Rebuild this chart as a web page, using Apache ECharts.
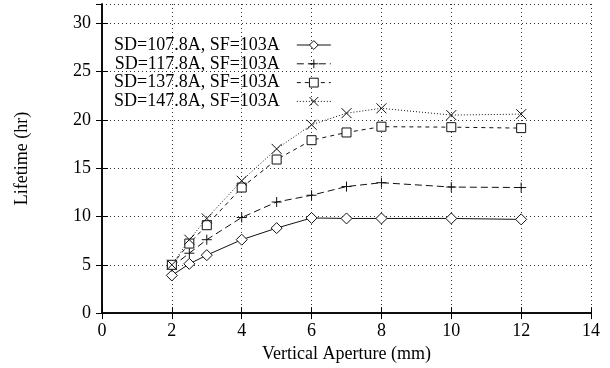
<!DOCTYPE html>
<html>
<head>
<meta charset="utf-8">
<script src="https://cdn.jsdelivr.net/npm/echarts@6/dist/echarts.min.js"></script>
<style>
  html, body { margin: 0; padding: 0; background: #fff; }
  #chart { width: 610px; height: 368px; }
</style>
</head>
<body>
<div id="chart"></div>
<script>
// aperture values (mm)
const aperture = [2, 2.5, 3, 4, 5, 6, 7, 8, 10, 12];
// lifetime (hr) for each SD setting
const sd1078 = [3.9, 5.1, 6.0, 7.6, 8.8, 9.85, 9.8, 9.8, 9.8, 9.7];
const sd1178 = [4.8, 6.2, 7.6, 9.9, 11.5, 12.2, 13.1, 13.5, 13.05, 13.0];
const sd1378 = [5.0, 7.2, 9.1, 13.0, 15.9, 17.9, 18.7, 19.3, 19.25, 19.15];
const sd1478 = [5.0, 7.6, 9.8, 13.7, 17.0, 19.5, 20.7, 21.2, 20.5, 20.6];
const names = ['SD=107.8A, SF=103A', 'SD=117.8A, SF=103A', 'SD=137.8A, SF=103A', 'SD=147.8A, SF=103A'];

const font = 'Liberation Serif';
// outline marks drawn as paths so the stroke stays 1px
const diamondPath = 'path://M5,0L10,5L5,10L0,5Z';
const squarePath = 'path://M0,0L10,0L10,10L0,10Z';
const plusPath = 'path://M5,0L5,10M0,5L10,5';
const crossPath = 'path://M0,0L10,10M10,0L0,10';

function pts(ys) {
  return aperture.map((x, i) => [x, ys[i]]);
}

function mk(name, ys, symbol, size, lineType) {
  return {
    name: name,
    type: 'line',
    data: pts(ys),
    symbol: symbol,
    symbolSize: size,
    showAllSymbol: true,
    lineStyle: { color: '#111', width: 1, type: lineType },
    itemStyle: { color: '#fff', borderColor: '#111', borderWidth: 1 },
    emphasis: { disabled: true },
    z: 3
  };
}

const chart = echarts.init(document.getElementById('chart'));
const tickInside = { show: true, inside: true, length: 6, lineStyle: { color: '#000' } };
const grid = { type: [1, 3], color: '#333', width: 1 };

chart.setOption({
  animation: false,
  backgroundColor: '#fff',
  textStyle: { fontFamily: font },
  grid: { left: 102, right: 19, top: 4, bottom: 51 },
  legend: {
    orient: 'vertical',
    left: 109,
    top: 31,
    align: 'right',
    itemWidth: 34,
    itemHeight: 11,
    itemGap: 0.8,
    itemStyle: { borderWidth: 1 },
    lineStyle: { width: 1 },
    textStyle: { fontFamily: font, fontSize: 18, color: '#000', padding: [0, 12, 0, 0] },
    data: names
  },
  xAxis: [{
    type: 'value', min: 0, max: 14, interval: 2,
    name: 'Vertical Aperture (mm)', nameLocation: 'middle', nameGap: 18,
    nameTextStyle: { fontFamily: font, fontSize: 18, color: '#000' },
    axisLine: { lineStyle: { color: '#000', width: 1.5 } },
    axisTick: tickInside,
    axisLabel: { fontFamily: font, fontSize: 18, color: '#000', margin: 9 },
    splitLine: { show: true, lineStyle: grid }
  }, {
    type: 'value', min: 0, max: 14, interval: 2, position: 'top',
    axisLine: { lineStyle: { color: '#000', width: 1.5 } },
    axisTick: tickInside,
    axisLabel: { show: false },
    splitLine: { show: false }
  }],
  yAxis: [{
    type: 'value', min: 0, max: 32, interval: 5,
    name: 'Lifetime (hr)', nameLocation: 'middle', nameGap: 71,
    nameTextStyle: { fontFamily: font, fontSize: 18, color: '#000' },
    axisLine: { show: true, lineStyle: { color: '#000', width: 1.5 } },
    axisTick: tickInside,
    axisLabel: { fontFamily: font, fontSize: 18, color: '#000', margin: 11, showMaxLabel: false },
    splitLine: { show: true, lineStyle: grid }
  }, {
    type: 'value', min: 0, max: 32, interval: 5, position: 'right',
    axisLine: { show: true, lineStyle: { color: '#000', width: 1.5 } },
    axisTick: tickInside,
    axisLabel: { show: false },
    splitLine: { show: false }
  }],
  series: [
    mk(names[0], sd1078, diamondPath, 11, 'solid'),
    mk(names[1], sd1178, plusPath, 10, [7, 4]),
    mk(names[2], sd1378, squarePath, 9, [4, 4]),
    mk(names[3], sd1478, crossPath, 10, [1, 2])
  ]
});
</script>
</body>
</html>
